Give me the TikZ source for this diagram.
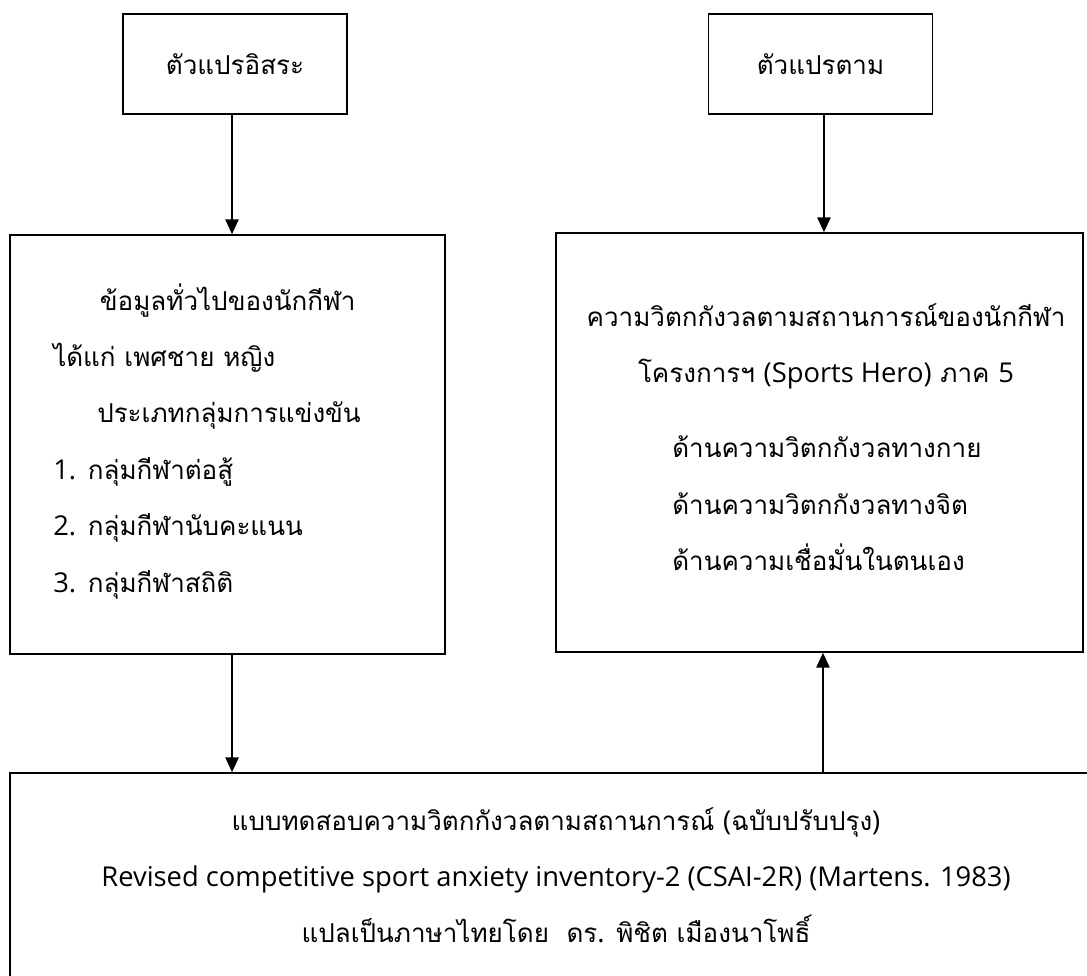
\documentclass[tikz,border=0pt]{standalone}
\usepackage{fontspec}
\setmainfont[Script=Thai]{Loma}
\newfontfamily\latinfont{Open Sans}
\newcommand\lat[1]{{\latinfont\fontsize{20.5}{42}\selectfont #1}}
\usetikzlibrary{arrows.meta}

\begin{document}
\begin{tikzpicture}[x=0.75pt,y=-0.75pt,>={Triangle[length=11pt,width=10pt]}]
	\tikzstyle{var box}=[rectangle, draw=black, line width=1.3pt, minimum width=168pt, minimum height=75pt, font=\fontsize{19.5}{22}\selectfont]
	\tikzstyle{big box}=[rectangle, draw=black, line width=1.3pt]
	\tikzstyle{txt}=[inner sep=0pt, font=\fontsize{19.5}{42.3}\selectfont]
	\tikzstyle{link}=[->, line width=0.9pt]

	\useasboundingbox (0,0) rectangle (1087,975);

	% top row
	\node [var box] (indep) at (235,64) {ตัวแปรอิสระ};
	\node [var box] (dep) at (820.5,64) {ตัวแปรตาม};

	% middle row
	\node [big box, minimum width=326.25pt, minimum height=314.25pt] (info) at (227.5,444.5) {};
	\node [big box, minimum width=395.25pt, minimum height=314.25pt] (anx) at (819.5,442.5) {};

	% bottom, runs off the page
	\node [big box, minimum width=892.5pt, minimum height=245.25pt] (test) at (605,936.5) {};

	\node [txt, anchor=north west, align=left] (infotxt) at (53,283) {%
		\hspace*{35pt}ข้อมูลทั่วไปของนักกีฬา\\
		ได้แก่ เพศชาย หญิง\\
		\hspace*{33pt}ประเภทกลุ่มการแข่งขัน\\
		\makebox[26pt][l]{\lat{1.}}กลุ่มกีฬาต่อสู้\\
		\makebox[26pt][l]{\lat{2.}}กลุ่มกีฬานับคะแนน\\
		\makebox[26pt][l]{\lat{3.}}กลุ่มกีฬาสถิติ};

	\node [txt, anchor=north, align=center] (anxtitle) at (826,303) {%
		ความวิตกกังวลตามสถานการณ์ของนักกีฬา\\
		โครงการฯ \lat{(Sports Hero)} ภาค \lat{5}};
	\node [txt, anchor=north west, align=left] (anxlist) at (672,436) {%
		ด้านความวิตกกังวลทางกาย\\
		ด้านความวิตกกังวลทางจิต\\
		ด้านความเชื่อมั่นในตนเอง};

	\node [txt, anchor=north, align=center] (testtxt) at (556,807) {%
		แบบทดสอบความวิตกกังวลตามสถานการณ์ \lat{(}ฉบับปรับปรุง\lat{)}\\
		\lat{Revised competitive sport anxiety inventory-2 (CSAI-2R) (Martens. 1983)}\\
		แปลเป็นภาษาไทยโดย~ ดร\lat{.} พิชิต เมืองนาโพธิ์};

	\draw [link] ([xshift=-2.25pt]indep.south) -- ([xshift=-2.25pt]indep.south |- info.north);
	\draw [link] ([xshift=2.6pt]dep.south) -- ([xshift=2.6pt]dep.south |- anx.north);
	\draw [link] ([xshift=3.4pt]info.south) -- ([xshift=3.4pt]info.south |- test.north);
	\draw [link] ([xshift=2.6pt]anx.south |- test.north) -- ([xshift=2.6pt]anx.south);
\end{tikzpicture}
\end{document}
